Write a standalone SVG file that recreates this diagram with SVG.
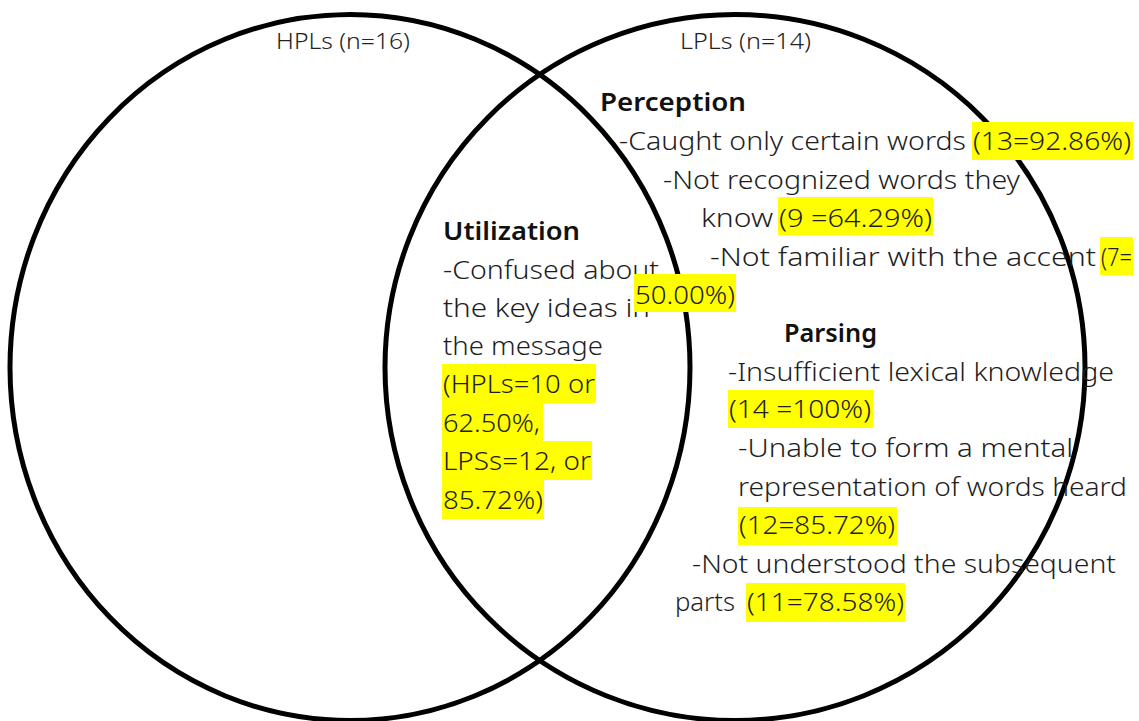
<svg xmlns="http://www.w3.org/2000/svg" width="1139" height="721" viewBox="0 0 1139 721">
<style>
.c{fill:none;stroke:#000;stroke-width:5}
.t{font-family:"Noto Sans","Open Sans","Liberation Sans",sans-serif;font-size:26px;fill:#1e1e1e;font-weight:300}
.h{font-family:"Noto Sans","Open Sans","Liberation Sans",sans-serif;font-size:26px;fill:#111;font-weight:600}
.s{font-family:"Noto Sans","Open Sans","Liberation Sans",sans-serif;font-size:21px;fill:#222;font-weight:300}
.y{fill:#ffff00}
</style>
<rect width="1139" height="721" fill="#fff"/>
<g id="circles">
<ellipse id="hpl-circle" class="c" cx="350" cy="367.5" rx="340" ry="353"/>
<ellipse id="lpl-circle" class="c" cx="735" cy="367.5" rx="350" ry="353"/>
</g>
<g id="labels">
<text class="s" x="276" y="49" textLength="134" lengthAdjust="spacingAndGlyphs">HPLs (n=16)</text>
<text class="s" x="680" y="49" textLength="131" lengthAdjust="spacingAndGlyphs">LPLs (n=14)</text>
</g>
<g id="utilization">
<text class="h" x="443" y="240" textLength="137" lengthAdjust="spacingAndGlyphs">Utilization</text>
<text class="t" x="443" y="279" textLength="216" lengthAdjust="spacingAndGlyphs">-Confused about</text>
<text class="t" x="443" y="317" textLength="207" lengthAdjust="spacingAndGlyphs">the key ideas in</text>
<text class="t" x="443" y="355" textLength="160" lengthAdjust="spacingAndGlyphs">the message</text>
<rect class="y" x="442" y="364" width="154" height="39"/>
<rect class="y" x="442" y="403" width="101" height="38"/>
<rect class="y" x="442" y="441" width="150" height="39"/>
<rect class="y" x="442" y="480" width="102" height="39"/>
<text class="t" x="443" y="393" textLength="152" lengthAdjust="spacingAndGlyphs">(HPLs=10 or</text>
<text class="t" x="443" y="432" textLength="97" lengthAdjust="spacingAndGlyphs">62.50%,</text>
<text class="t" x="443" y="470" textLength="148" lengthAdjust="spacingAndGlyphs">LPSs=12, or</text>
<text class="t" x="443" y="509" textLength="100" lengthAdjust="spacingAndGlyphs">85.72%)</text>
</g>
<g id="perception">
<text class="h" x="600" y="111" textLength="146" lengthAdjust="spacingAndGlyphs">Perception</text>
<text class="t" x="619" y="150" textLength="347" lengthAdjust="spacingAndGlyphs">-Caught only certain words</text>
<rect class="y" x="972" y="122" width="161" height="38"/>
<text class="t" x="973" y="150" textLength="158" lengthAdjust="spacingAndGlyphs">(13=92.86%)</text>
<text class="t" x="663" y="189" textLength="357" lengthAdjust="spacingAndGlyphs">-Not recognized words they</text>
<text class="t" x="701" y="227" textLength="72" lengthAdjust="spacingAndGlyphs">know</text>
<rect class="y" x="778" y="197" width="155" height="38"/>
<text class="t" x="779" y="227" textLength="153" lengthAdjust="spacingAndGlyphs">(9 =64.29%)</text>
<text class="t" x="710" y="266" textLength="386" lengthAdjust="spacingAndGlyphs">-Not familiar with the accent</text>
<rect class="y" x="1100" y="237" width="33" height="38"/>
<text class="t" x="1101" y="266" textLength="31" lengthAdjust="spacingAndGlyphs">(7=</text>
<rect class="y" x="634" y="274" width="102" height="38"/>
<text class="t" x="635" y="304" textLength="100" lengthAdjust="spacingAndGlyphs">50.00%)</text>
</g>
<g id="parsing">
<text class="h" x="784" y="342" textLength="93" lengthAdjust="spacingAndGlyphs">Parsing</text>
<text class="t" x="728" y="381" textLength="386" lengthAdjust="spacingAndGlyphs">-Insufficient lexical knowledge</text>
<rect class="y" x="728" y="390" width="145" height="38"/>
<text class="t" x="729" y="418" textLength="142" lengthAdjust="spacingAndGlyphs">(14 =100%)</text>
<text class="t" x="738" y="457" textLength="335" lengthAdjust="spacingAndGlyphs">-Unable to form a mental</text>
<text class="t" x="738" y="496" textLength="389" lengthAdjust="spacingAndGlyphs">representation of words heard</text>
<rect class="y" x="738" y="507" width="159" height="38"/>
<text class="t" x="739" y="534" textLength="156" lengthAdjust="spacingAndGlyphs">(12=85.72%)</text>
<text class="t" x="692" y="573" textLength="424" lengthAdjust="spacingAndGlyphs">-Not understood the subsequent</text>
<text class="t" x="675" y="611" textLength="60" lengthAdjust="spacingAndGlyphs">parts</text>
<rect class="y" x="746" y="583" width="159" height="39"/>
<text class="t" x="747" y="611" textLength="157" lengthAdjust="spacingAndGlyphs">(11=78.58%)</text>
</g>
</svg>
